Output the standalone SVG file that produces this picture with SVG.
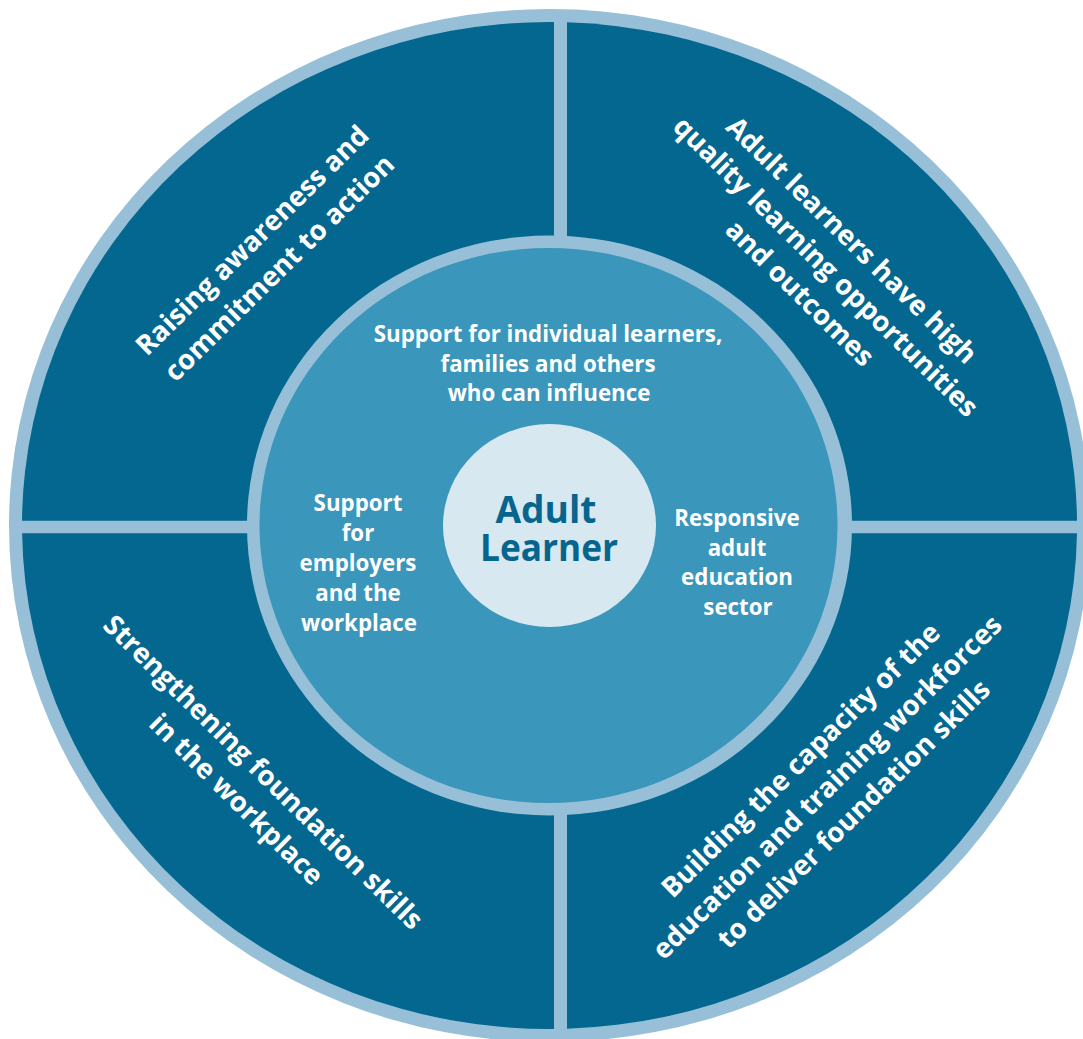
<svg xmlns="http://www.w3.org/2000/svg" width="1083" height="1039" viewBox="0 0 1083 1039">
<style>
.band{fill:#97c0d8}
.quad{fill:#04678f}
.mid{fill:#3a96bb}
.core{fill:#d8e8f1}
text{font-family:"Open Sans","Noto Sans",sans-serif;font-weight:700;text-anchor:middle}
.out{font-size:27.6px;fill:#ffffff}
.in{font-size:22.3px;fill:#ffffff}
.ctr{font-size:37px;fill:#05658f}
</style>
<rect width="1083" height="1039" fill="#ffffff"/>
<g id="outer-band">
<ellipse class="band" cx="549.5" cy="525.5" rx="540.5" ry="516.5"/>
</g>
<g id="quadrant-top-left">
<path class="quad" d="M554,520.7 L554,22 A527.5,503.5 0 0 0 22,520.7 Z"/>
<g transform="translate(265.9,254.3) rotate(-44.5)">
<text class="out" x="0" y="-10">Raising awareness and</text>
<text class="out" x="0" y="28.5">commitment to action</text>
</g>
</g>
<g id="quadrant-top-right">
<path class="quad" d="M567,520.7 L567,22.3 A527.5,503.5 0 0 1 1077,520.7 Z"/>
<g transform="translate(825.5,267) rotate(44.5)">
<text class="out" x="0" y="-28">Adult learners have high</text>
<text class="out" x="0" y="9">quality learning opportunities</text>
<text class="out" x="0" y="46">and outcomes</text>
</g>
</g>
<g id="quadrant-bottom-left">
<path class="quad" d="M554,533.3 L22.1,533.3 A527.5,503.5 0 0 0 554,1029 Z"/>
<g transform="translate(249.5,786.1) rotate(44.5)">
<text class="out" x="0" y="-10">Strengthening foundation skills</text>
<text class="out" x="0" y="28">in the workplace</text>
</g>
</g>
<g id="quadrant-bottom-right">
<path class="quad" d="M567,533.3 L1077,533.3 A527.5,503.5 0 0 1 567,1028.7 Z"/>
<g transform="translate(827.5,787.5) rotate(-44.5)">
<text class="out" x="0" y="-28.8">Building the capacity of the</text>
<text class="out" x="0" y="9">education and training workforces</text>
<text class="out" x="0" y="46.8">to deliver foundation skills</text>
</g>
</g>
<g id="inner-ring">
<ellipse class="band" cx="549.5" cy="525.5" rx="302.5" ry="290"/>
<ellipse class="mid" cx="548.5" cy="525.5" rx="289" ry="277.5"/>
</g>
<g id="label-individual-learners">
<text class="in" x="548" y="342">Support for individual learners,</text>
<text class="in" x="548" y="372">families and others</text>
<text class="in" x="549" y="401">who can influence</text>
</g>
<g id="label-employers">
<text class="in" x="358" y="511">Support</text>
<text class="in" x="358" y="541">for</text>
<text class="in" x="358" y="571">employers</text>
<text class="in" x="358" y="601">and the</text>
<text class="in" x="359" y="631">workplace</text>
</g>
<g id="label-education-sector">
<text class="in" x="737" y="526">Responsive</text>
<text class="in" x="737" y="556">adult</text>
<text class="in" x="737" y="585">education</text>
<text class="in" x="738" y="615">sector</text>
</g>
<g id="adult-learner">
<ellipse class="core" cx="549.5" cy="525.5" rx="106.5" ry="101.5"/>
<text class="ctr" x="546" y="523" textLength="101" lengthAdjust="spacingAndGlyphs">Adult</text>
<text class="ctr" x="549" y="561" textLength="138" lengthAdjust="spacingAndGlyphs">Learner</text>
</g>
</svg>
